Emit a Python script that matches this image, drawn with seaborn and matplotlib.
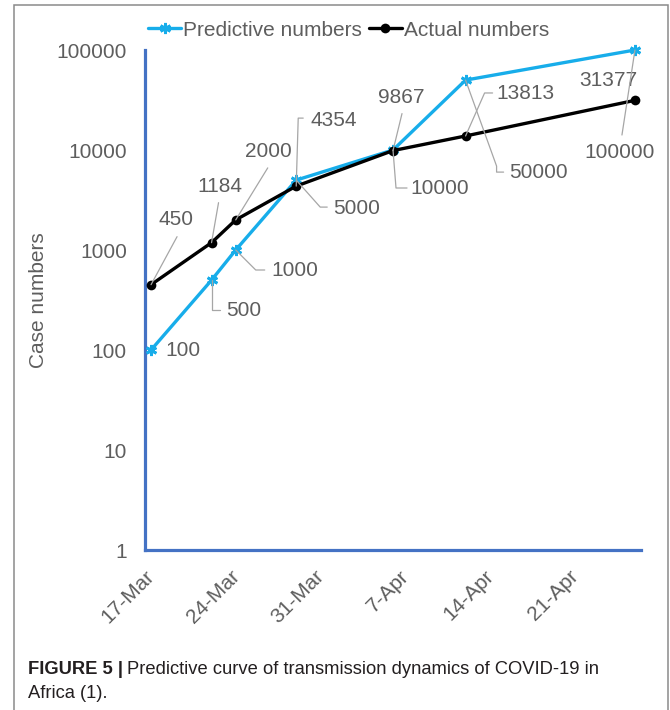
import numpy as np
import pandas as pd
import matplotlib
matplotlib.use("Agg")
import matplotlib.pyplot as plt
import matplotlib.dates as mdates
from matplotlib.lines import Line2D
from matplotlib.patches import Rectangle
from matplotlib.transforms import IdentityTransform
from matplotlib.ticker import FixedLocator, NullLocator
import seaborn as sns

# ---- data -------------------------------------------------------------
dates = ["2020-03-17", "2020-03-22", "2020-03-24", "2020-03-29",
         "2020-04-06", "2020-04-12", "2020-04-26"]
predictive = [100, 500, 1000, 5000, 10000, 50000, 100000]
actual = [450, 1184, 2000, 4354, 9867, 13813, 31377]
series_names = ["Predictive numbers", "Actual numbers"]

x_ticks = ["2020-03-17", "2020-03-24", "2020-03-31", "2020-04-07",
           "2020-04-14", "2020-04-21"]
x_tick_labels = ["17-Mar", "24-Mar", "31-Mar", "7-Apr", "14-Apr", "21-Apr"]
y_ticks = [1, 10, 100, 1000, 10000, 100000]
y_tick_labels = ["1", "10", "100", "1000", "10000", "100000"]
y_label = "Case numbers"
caption_bold = "FIGURE 5 |"
caption_line1 = "Predictive curve of transmission dynamics of COVID-19 in"
caption_line2 = "Africa (1)."

# ---- style ------------------------------------------------------------
sns.set_style("white")
plt.rcParams["font.family"] = ["Liberation Sans", "DejaVu Sans"]

BLUE = "#17ADEA"
BLACK = "#000000"
AXIS = "#4472C4"
TXT = "#5E5E5E"
LEADER = "#A6A6A6"
FS = 15

W, H = 670, 710
fig = plt.figure(figsize=(W / 100, H / 100), dpi=100)
fig.patch.set_facecolor("white")
# plot area in pixels: left 145, right 641, top 50, bottom 550
ax = fig.add_axes([145 / W, (H - 550) / H, 496 / W, 500 / H])

# each date is a one-day slot on the axis; points sit at the slot centre
when = pd.to_datetime(dates) + pd.Timedelta(hours=12)
df = pd.DataFrame({"date": when, "Predictive": predictive, "Actual": actual})

star = (6, 2, 0)
sns.lineplot(data=df, x="date", y="Predictive", ax=ax, color=BLUE,
             linewidth=2.4, marker=star, markersize=8, markeredgewidth=2,
             markeredgecolor=BLUE, estimator=None, legend=False, zorder=3,
             clip_on=False)
sns.lineplot(data=df, x="date", y="Actual", ax=ax, color=BLACK,
             linewidth=2.4, marker="o", markersize=7, markeredgewidth=0,
             markerfacecolor=BLACK, estimator=None, legend=False, zorder=4,
             clip_on=False)

ax.set_yscale("log")
ax.set_ylim(1, 100000)
ax.yaxis.set_major_locator(FixedLocator(y_ticks))
ax.yaxis.set_minor_locator(NullLocator())
ax.set_yticklabels(y_tick_labels)
ax.set_xlim(pd.Timestamp("2020-03-17"), pd.Timestamp("2020-04-27"))
ax.set_xticks(pd.to_datetime(x_ticks))
ax.set_xticklabels(x_tick_labels, rotation=45, ha="right",
                   rotation_mode="anchor")
ax.set_xlabel("")
ax.set_ylabel(y_label, fontsize=FS, color=TXT)
ax.yaxis.label.set_va("center")
ax.yaxis.set_label_coords((39 - 145) / 496, 0.5)

for side in ("top", "right"):
    ax.spines[side].set_visible(False)
for side in ("left", "bottom"):
    ax.spines[side].set_color(AXIS)
    ax.spines[side].set_linewidth(2.3)
ax.tick_params(axis="both", which="major", color=AXIS, width=2.3,
               length=3, direction="out", labelcolor=TXT, labelsize=FS)
ax.tick_params(axis="y", pad=10)
ax.tick_params(axis="x", pad=9)
ax.grid(False)
ax.set_facecolor("white")

# ---- data labels with leader lines -----------------------------------
# (text offset dx, dy, horizontal alignment, leader polyline) in pixels,
# y pointing down from the marker
pred_layout = [
    (14, 0, "left", []),
    (15, 30, "left", [(0, 0), (0, 30), (8, 30)]),
    (36, 21, "left", [(0, 0), (20, 20), (29, 20)]),
    (37, 28, "left", [(0, 0), (24, 27), (31, 27)]),
    (17, 38, "left", [(0, 0), (3, 38), (14, 38)]),
    (44, 92, "left", [(0, 0), (31, 86), (31, 92), (38, 92)]),
    (-15, 103, "center", [(0, 0), (-13, 85)]),
]
act_layout = [
    (25, -65, "center", [(0, 0), (26, -48)]),
    (8, -56, "center", [(0, 0), (7, -40)]),
    (33, -68, "center", [(0, 0), (32, -52)]),
    (14, -66, "left", [(0, 0), (2, -68), (7, -68)]),
    (8, -53, "center", [(0, 0), (9, -37)]),
    (31, -42, "left", [(0, 0), (19, -43), (27, -43)]),
    (-27, -20, "center", []),
]

xnum = mdates.date2num(when)
for values, layout in ((predictive, pred_layout), (actual, act_layout)):
    for xv, v, (dx, dy, ha, leader) in zip(xnum, values, layout):
        px, py = ax.transData.transform((xv, v))
        if leader:
            xs = [px + a for a, b in leader]
            ys = [py - b for a, b in leader]
            fig.add_artist(Line2D(xs, ys, color=LEADER, linewidth=0.9,
                                  transform=IdentityTransform(), zorder=2))
        ax.annotate(str(v), xy=(xv, v), xytext=(dx, -dy),
                    textcoords="offset pixels", ha=ha, va="center",
                    fontsize=FS, color=TXT, annotation_clip=False)

# ---- legend -------------------------------------------------------------
handles = [
    Line2D([], [], color=BLUE, linewidth=2.4, marker=star, markersize=8,
           markeredgewidth=2, markeredgecolor=BLUE),
    Line2D([], [], color=BLACK, linewidth=2.4, marker="o", markersize=7,
           markeredgewidth=0),
]
fig.legend(handles, series_names, loc="center left",
           bbox_to_anchor=(148 / W, 1 - 30 / H), ncol=2, frameon=False,
           fontsize=FS, labelcolor=TXT, handlelength=1.6,
           handletextpad=0.1, columnspacing=0.3, borderpad=0,
           borderaxespad=0)

# ---- frame and caption -----------------------------------------------------
fig.add_artist(Rectangle((14, -10), 654, 715, fill=False, edgecolor="#8A8A8A",
                         linewidth=1.1, transform=IdentityTransform()))

cap_kw = dict(fontsize=13.2, color="#231F20")
bold = fig.text(28 / W, 36 / H, caption_bold, fontweight="bold",
                va="baseline", **cap_kw)
ax.annotate(caption_line1, xy=(1, 0), xycoords=bold, xytext=(4, 0),
            textcoords="offset pixels", va="bottom", annotation_clip=False,
            **cap_kw)
fig.text(28 / W, 12 / H, caption_line2, va="baseline", **cap_kw)

fig.savefig("out.png", dpi=100, facecolor="white")
